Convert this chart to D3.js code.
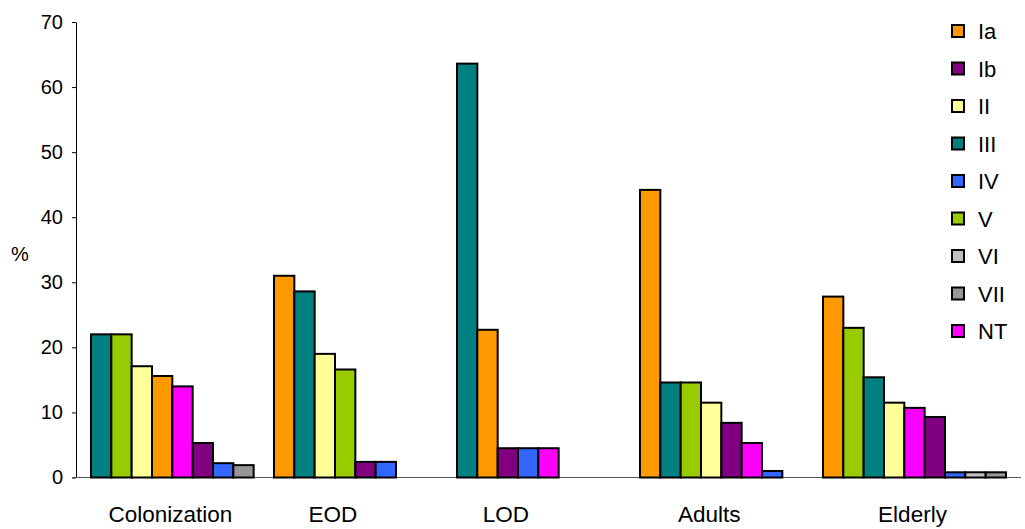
<!DOCTYPE html>
<html>
<head>
<meta charset="utf-8">
<script src="https://cdn.jsdelivr.net/npm/d3@7"></script>
<style>
  html, body { margin: 0; padding: 0; background: #fff; }
  svg { display: block; font-family: "Liberation Sans", Arial, sans-serif; }
</style>
</head>
<body>
<svg id="chart" width="1025" height="529"></svg>
<script>
// ---- Data ----
const groups = ["Colonization", "EOD", "LOD", "Adults", "Elderly"];
const seriesNames = ["Ia", "Ib", "II", "III", "IV", "V", "VI", "VII", "NT"];
const seriesColors = ["#FF9900", "#800080", "#FFFF99", "#008080", "#3366FF", "#99CC00", "#C0C0C0", "#969696", "#FF00FF"];
// values per series across groups (null = absent)
const Ia  = [15.6, 31.0, 22.7, 44.2, 27.8];
const Ib  = [5.3, 2.4, 4.5, 8.4, 9.3];
const II  = [17.1, 19.0, null, 11.5, 11.5];
const III = [22.0, 28.6, 63.6, 14.6, 15.4];
const IV  = [2.2, 2.4, 4.5, 1.0, 0.8];
const V   = [22.0, 16.6, null, 14.6, 23.0];
const VI  = [null, null, null, null, 0.8];
const VII = [1.9, null, null, null, 0.8];
const NT  = [14.0, null, 4.5, 5.3, 10.7];
const seriesValues = [Ia, Ib, II, III, IV, V, VI, VII, NT];
const yTicks = [0, 10, 20, 30, 40, 50, 60, 70];
const yLabel = "%";

// ---- Layout ----
const svg = d3.select("#chart");
const axisLeftX = 76, axisRightX = 1021;
const y = d3.scaleLinear().domain([0, 70]).range([477.5, 22]);
const xGroup = d3.scaleBand().domain(groups).range([91, 1006]).paddingInner(0).paddingOuter(0);
const slots = d3.range(seriesNames.length);
const xSlot = d3.scaleBand().domain(slots).range([0, xGroup.bandwidth()]).padding(0);

// build bars: within each group, sorted descending (stable by series order)
const bars = [];
const labelPos = [];
groups.forEach((g, gi) => {
  const items = seriesNames.map((s, si) => ({ s, si, v: seriesValues[si][gi] }))
    .filter(d => d.v !== null);
  items.sort((a, b) => (b.v - a.v) || (a.si - b.si));
  items.forEach((d, k) => bars.push({ g, slot: k, ...d }));
  labelPos.push({ g, n: items.length });
});

// y axis
const yAxis = d3.axisLeft(y).tickValues(yTicks).tickSize(4).tickSizeOuter(0).tickPadding(9);
const yg = svg.append("g").attr("transform", `translate(${axisLeftX},0)`).call(yAxis);
yg.select(".domain").attr("stroke", "#000").attr("stroke-width", 1);
yg.selectAll(".tick line").attr("stroke", "#000");
yg.selectAll(".tick text").attr("font-size", 20).attr("fill", "#000")
  .attr("font-family", "Liberation Sans, Arial, sans-serif");

// x axis baseline
svg.append("line").attr("x1", axisLeftX - 4).attr("x2", axisRightX)
  .attr("y1", y(0)).attr("y2", y(0)).attr("stroke", "#555").attr("stroke-width", 1.2);

// bars
svg.append("g").selectAll("rect").data(bars).join("rect")
  .attr("x", d => xGroup(d.g) + xSlot(d.slot))
  .attr("y", d => y(d.v))
  .attr("width", xSlot.bandwidth())
  .attr("height", d => y(0) - y(d.v))
  .attr("fill", d => seriesColors[d.si])
  .attr("stroke", "#000").attr("stroke-width", 2);

// category labels, centred on occupied bars
svg.append("g").selectAll("text").data(labelPos).join("text")
  .attr("x", d => xGroup(d.g) + xSlot.bandwidth() * d.n / 2 - 2)
  .attr("y", 522)
  .attr("text-anchor", "middle")
  .attr("font-size", 22.5)
  .attr("fill", "#000")
  .text(d => d.g);

// y label
svg.append("text").attr("x", 20).attr("y", 261).attr("text-anchor", "middle")
  .attr("font-size", 20).text(yLabel);

// legend
const legend = svg.append("g").selectAll("g").data(seriesNames).join("g")
  .attr("transform", (d, i) => `translate(952, ${31 + i * 37.5})`);
legend.append("rect").attr("x", 0).attr("y", -6).attr("width", 12).attr("height", 12)
  .attr("fill", (d, i) => seriesColors[i]).attr("stroke", "#000").attr("stroke-width", 2);
legend.append("text").attr("x", 26).attr("y", 8).attr("font-size", 22).attr("fill", "#000")
  .text(d => d);
</script>
</body>
</html>
